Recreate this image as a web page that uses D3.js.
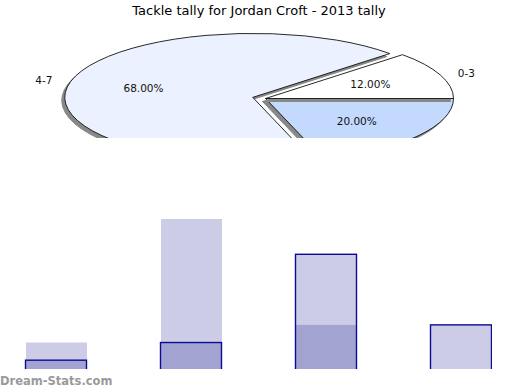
<!DOCTYPE html>
<html>
<head>
<meta charset="utf-8">
<script src="https://cdn.jsdelivr.net/npm/d3@7"></script>
<style>
  html, body { margin: 0; padding: 0; background: #fff; }
  svg { display: block; }
</style>
</head>
<body>
<div id="chart"></div>
<script>
// ---- data ----
const title = "Tackle tally for Jordan Croft - 2013 tally";
const pieLabels = ["0-3", "4-7", "8-11"];
const pieValues = [3, 17, 5];
const pieColors = ["#ffffff", "#ebf1fe", "#c4d9fe"];
const pieExplode = [0, 0.07, 0];
const barCategories = ["0-3", "4-7", "8-11", "12-15"];
const seriesA = [3, 17, 5, 0];
const seriesB = [1, 3, 13, 5];
const watermark = "Dream-Stats.com";

// ---- layout ----
const W = 520, H = 390;
const pieClipH = 138;
const svg = d3.select("#chart").append("svg").attr("width", W).attr("height", H);
const defs = svg.append("defs");
defs.append("clipPath").attr("id", "pieClip").append("rect")
  .attr("x", 0).attr("y", 0).attr("width", W).attr("height", pieClipH);
defs.append("clipPath").attr("id", "barClip").append("rect")
  .attr("x", 0).attr("y", 150).attr("width", 492).attr("height", 219);

// ---- bar chart ----
const x = d3.scaleBand().domain(barCategories)
  .range([-11, 529]).paddingInner(74 / 135).paddingOuter(37 / 135);
const y = d3.scaleLinear().domain([0, 17]).range([369, 219]);

const bars = svg.append("g").attr("clip-path", "url(#barClip)");
bars.selectAll("rect.a").data(seriesA).join("rect").attr("class", "a")
  .attr("x", (d, i) => x(barCategories[i]))
  .attr("width", x.bandwidth())
  .attr("y", d => y(d))
  .attr("height", d => y(0) - y(d))
  .attr("fill", "#000080").attr("fill-opacity", 0.2);
bars.selectAll("rect.b").data(seriesB).join("rect").attr("class", "b")
  .attr("x", (d, i) => x(barCategories[i]) - 0.5)
  .attr("width", x.bandwidth())
  .attr("y", d => y(d))
  .attr("height", d => y(0) - y(d) + 5)
  .attr("fill", "#000080").attr("fill-opacity", 0.2)
  .attr("stroke", "#0a0a96").attr("stroke-width", 1.4);

// ---- pie ----
const cx = 265.5, cy = 98.5, rx = 188, ry = 64;
const pie = d3.pie().sort(null).startAngle(Math.PI / 2).endAngle(Math.PI / 2 - 2 * Math.PI);
const arcs = pie(pieValues);
const arc = d3.arc().innerRadius(0).outerRadius(rx);
const total = d3.sum(pieValues);
const sy = ry / rx;

function pos(a, r) { return [r * Math.sin(a), -r * Math.cos(a) * sy]; }

const pieG = svg.append("g").attr("clip-path", "url(#pieClip)");
const order = [2, 1, 0];
order.forEach(i => {
  const d = arcs[i];
  const mid = (d.startAngle + d.endAngle) / 2;
  const off = pos(mid, pieExplode[i] * rx);
  const g = pieG.append("g").attr("transform", `translate(${cx + off[0]},${cy + off[1]})`);
  g.append("path").attr("d", arc(d))
    .attr("transform", `translate(-3,3) scale(1,${sy})`)
    .attr("fill", "#888").attr("stroke", "#888")
    .attr("vector-effect", "non-scaling-stroke");
  g.append("path").attr("d", arc(d))
    .attr("transform", `scale(1,${sy})`)
    .attr("fill", pieColors[i]).attr("stroke", "#111").attr("stroke-width", 0.9)
    .attr("vector-effect", "non-scaling-stroke");
});
arcs.forEach((d, i) => {
  const mid = (d.startAngle + d.endAngle) / 2;
  const off = pos(mid, pieExplode[i] * rx);
  const p = pos(mid, 0.6 * rx);
  pieG.append("text")
    .attr("x", cx + off[0] + p[0]).attr("y", cy + off[1] + p[1])
    .attr("text-anchor", "middle").attr("dominant-baseline", "central")
    .attr("font-family", "DejaVu Sans").attr("font-size", 10.5).attr("fill", "#111")
    .text((100 * d.value / total).toFixed(2) + "%");
  const q = pos(mid, 1.1 * rx);
  const ly = cy + off[1] + q[1];
  if (ly + 6 < pieClipH) {
    pieG.append("text")
      .attr("x", cx + off[0] + q[0]).attr("y", ly)
      .attr("text-anchor", Math.sin(mid) >= 0 ? "start" : "end")
      .attr("dominant-baseline", "central")
      .attr("font-family", "DejaVu Sans").attr("font-size", 10.5).attr("fill", "#111")
      .text(pieLabels[i]);
  }
});

// ---- title ----
svg.append("text").attr("x", 259).attr("y", 14.5).attr("text-anchor", "middle")
  .attr("font-family", "DejaVu Sans").attr("font-size", 13).attr("fill", "#000")
  .text(title);

// ---- watermark ----
svg.append("text").attr("x", 0).attr("y", 384.5)
  .attr("font-family", "DejaVu Sans").attr("font-weight", "bold").attr("font-size", 11.5)
  .attr("fill", "#9a9a9a").text(watermark);
</script>
</body>
</html>
